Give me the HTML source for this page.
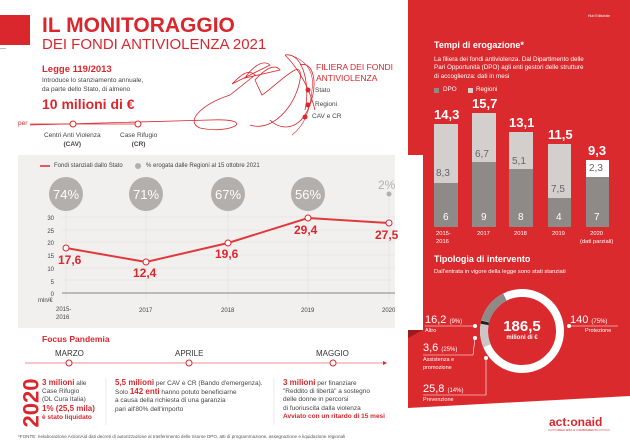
<!DOCTYPE html>
<html><head><meta charset="utf-8"><style>
*{margin:0;padding:0;box-sizing:border-box}
body{width:630px;height:446px;overflow:hidden;background:#fff;font-family:"Liberation Sans",sans-serif;position:relative}
.a{position:absolute;white-space:nowrap}
.r{color:#d9272d}
.t{font-size:6.5px;color:#444;line-height:8.5px}
.w{color:#fff}
</style></head><body>
<!-- right red panel -->
<svg class="a" style="left:0;top:0" width="630" height="446">
<polygon points="408,0 630,0 630,396 408,408" fill="#da2a2d"/>
<polygon points="408,155 423,155 423,330 408,330" fill="#fff"/>
<polygon points="408,330 423,330 408,338" fill="#9c1b1e"/>
<rect x="0" y="15" width="30" height="30" fill="#d9272d"/>
<rect x="0" y="48" width="6" height="1" fill="#bbb"/>
<rect x="18" y="155" width="377" height="173" fill="#f2f0ef"/>
<!-- hand sketch -->
<g fill="none" stroke="#d9272d" stroke-width="0.8">
<path d="M30,125 L210,120 C260,118 230,135 200,128 C185,122 200,105 230,95 L255,75 C248,68 240,76 232,84 L270,65 C262,58 250,70 245,78 L280,70 C274,62 262,72 255,80 L262,95 C270,90 285,75 295,70 C305,65 300,90 290,105 C280,120 265,130 250,125"/>
<path d="M285,55 C300,70 310,90 315,110 M300,65 C315,60 320,90 305,115 C295,130 280,130 270,120"/>
<path d="M285,55 C305,52 310,90 305,110"/>
</g>
<path d="M290,55 C305,60 315,70 312,90 C310,110 305,125 292,135" fill="none" stroke="#d9272d" stroke-width="0.6"/>
<!-- per timeline -->
<line x1="30" y1="124" x2="140" y2="124" stroke="#d9272d" stroke-width="0.8"/>
<circle cx="73" cy="124" r="3" fill="#fff" stroke="#d9272d"/>
<circle cx="138" cy="124" r="3" fill="#fff" stroke="#d9272d"/>
<circle cx="308" cy="90" r="2.5" fill="#d9272d"/><circle cx="308" cy="105" r="2.5" fill="#d9272d"/><circle cx="305" cy="117" r="2.5" fill="#d9272d"/>
<!-- line chart grid -->
<g stroke="#ddd" stroke-width="0.6">
<line x1="62" y1="217" x2="395" y2="217"/><line x1="62" y1="230" x2="395" y2="230"/><line x1="62" y1="242" x2="395" y2="242"/><line x1="62" y1="255" x2="395" y2="255"/><line x1="62" y1="268" x2="395" y2="268"/><line x1="62" y1="280" x2="395" y2="280"/>
<line x1="66" y1="200" x2="66" y2="300"/><line x1="146" y1="200" x2="146" y2="300"/><line x1="228" y1="200" x2="228" y2="300"/><line x1="308" y1="200" x2="308" y2="300"/><line x1="389" y1="195" x2="389" y2="300"/>
</g>
<line x1="62" y1="293" x2="395" y2="293" stroke="#999" stroke-width="1.2"/>
<g fill="#b3afac"><circle cx="66" cy="194" r="17"/><circle cx="146" cy="194" r="17"/><circle cx="228" cy="194" r="17"/><circle cx="308" cy="194" r="17"/><circle cx="389" cy="194" r="2.5"/><circle cx="138" cy="166" r="3"/></g>
<line x1="40" y1="166" x2="50" y2="166" stroke="#d9272d" stroke-width="1.5"/>
<polyline points="66,248 146,262 228,243 308,218 389,223" fill="none" stroke="#e0393c" stroke-width="2"/>
<g fill="#fff" stroke="#d9272d"><circle cx="66" cy="248" r="3"/><circle cx="146" cy="262" r="3"/><circle cx="228" cy="243" r="3"/><circle cx="308" cy="218" r="3"/><circle cx="389" cy="223" r="3"/></g>
<!-- focus timeline -->
<line x1="25" y1="363" x2="383" y2="363" stroke="#d9272d" stroke-width="0.6"/>
<polygon points="383,361 387,363 383,365" fill="#d9272d"/>
<g fill="#fff" stroke="#d9272d"><circle cx="69" cy="363" r="3"/><circle cx="189" cy="363" r="3"/><circle cx="333" cy="363" r="3"/></g>
<line x1="106" y1="378" x2="106" y2="425" stroke="#ddd" stroke-width="0.6"/>
<line x1="274" y1="378" x2="274" y2="425" stroke="#ddd" stroke-width="0.6"/>
<!-- bars -->
<g fill="#8e8a87"><rect x="434" y="183" width="24" height="44"/><rect x="472" y="162" width="24" height="65"/><rect x="509" y="169" width="24" height="58"/><rect x="548" y="198" width="23" height="29"/><rect x="586" y="177" width="23" height="50"/></g>
<g fill="#d2cfcd"><rect x="434" y="124" width="24" height="59"/><rect x="472" y="113" width="24" height="49"/><rect x="509" y="132" width="24" height="37"/><rect x="548" y="144" width="23" height="54"/></g>
<rect x="586" y="160" width="23" height="17" fill="#fff"/>
<rect x="434" y="88" width="5" height="5" fill="#8e8a87"/><rect x="468" y="88" width="5" height="5" fill="#d2cfcd"/>
<!-- donut -->
<circle cx="522" cy="331" r="38" fill="none" stroke="#fff" stroke-width="8"/>
<circle cx="522" cy="331" r="38" fill="none" stroke="#c9c6c4" stroke-width="8" stroke-dasharray="22 217" transform="rotate(157 522 331)"/>
<circle cx="522" cy="331" r="38" fill="none" stroke="#222" stroke-width="8" stroke-dasharray="3 236" transform="rotate(190 522 331)"/>
<circle cx="522" cy="331" r="38" fill="none" stroke="#8e8a87" stroke-width="8" stroke-dasharray="32 207" transform="rotate(195 522 331)"/>
<g stroke="#fff" stroke-width="0.6" fill="none"><line x1="425" y1="326" x2="475" y2="326"/><line x1="570" y1="326" x2="618" y2="326"/><polyline points="475,338 473,355 423,355"/><polyline points="486,358 486,395 423,395"/></g>
<g fill="#fff"><circle cx="475" cy="326" r="2"/><circle cx="569" cy="326" r="2"/><circle cx="475" cy="338" r="2"/><circle cx="486" cy="358" r="2"/></g>
<line x1="548" y1="430" x2="610" y2="430" stroke="#d9272d" stroke-width="0.5"/>
</svg>
<div class="a r" style="left:42px;top:14px;font-size:21px;font-weight:bold">IL MONITORAGGIO</div>
<div class="a r" style="left:42px;top:36px;font-size:15px">DEI FONDI ANTIVIOLENZA 2021</div>
<div class="a r" style="left:42px;top:64px;font-size:9.5px;font-weight:bold">Legge 119/2013</div>
<div class="a t" style="left:42px;top:77px">Introduce lo stanziamento annuale,<br>da parte dello Stato, di almeno</div>
<div class="a r" style="left:42px;top:96px;font-size:14px;font-weight:bold">10 milioni di €</div>
<div class="a r" style="left:18px;top:120px;font-size:6.5px">per</div>
<div class="a t" style="left:44px;top:132px;text-align:center">Centri Anti Violenza<br><b>(CAV)</b></div>
<div class="a t" style="left:120px;top:132px;text-align:center">Case Rifugio<br><b>(CR)</b></div>
<div class="a r" style="left:316px;top:62px;font-size:8.5px;line-height:11px">FILIERA DEI FONDI<br>ANTIVIOLENZA</div>
<div class="a t" style="left:315px;top:87px">Stato</div>
<div class="a t" style="left:315px;top:101px">Regioni</div>
<div class="a t" style="left:312px;top:113px">CAV e CR</div>
<div class="a t" style="left:54px;top:162px;font-size:6px">Fondi stanziati dallo Stato</div>
<div class="a t" style="left:146px;top:162px;font-size:6px">% erogata dalle Regioni al 15 ottobre 2021</div>
<div class="a w" style="left:49px;top:187px;font-size:13px;width:34px;text-align:center">74%</div>
<div class="a w" style="left:129px;top:187px;font-size:13px;width:34px;text-align:center">71%</div>
<div class="a w" style="left:211px;top:187px;font-size:13px;width:34px;text-align:center">67%</div>
<div class="a w" style="left:291px;top:187px;font-size:13px;width:34px;text-align:center">56%</div>
<div class="a" style="left:378px;top:178px;font-size:12px;color:#b3afac">2%</div>
<div class="a t" style="left:38px;top:213px;font-size:6px;text-align:right;width:16px;line-height:12.7px">30<br>25<br>20<br>15<br>10<br>5<br>0</div>
<div class="a t" style="left:38px;top:297px;font-size:6px">mln/€</div>
<div class="a t" style="left:56px;top:307px;font-size:6px;line-height:7.5px">2015-<br>2016</div>
<div class="a t" style="left:139px;top:307px;font-size:6px">2017</div>
<div class="a t" style="left:221px;top:307px;font-size:6px">2018</div>
<div class="a t" style="left:301px;top:307px;font-size:6px">2019</div>
<div class="a t" style="left:382px;top:307px;font-size:6px">2020</div>
<div class="a r" style="left:58px;top:253px;font-size:12px;font-weight:bold">17,6</div>
<div class="a r" style="left:133px;top:266px;font-size:12px;font-weight:bold">12,4</div>
<div class="a r" style="left:215px;top:247px;font-size:12px;font-weight:bold">19,6</div>
<div class="a r" style="left:294px;top:223px;font-size:12px;font-weight:bold">29,4</div>
<div class="a r" style="left:375px;top:228px;font-size:12px;font-weight:bold">27,5</div>
<div class="a r" style="left:42px;top:334px;font-size:8.5px;font-weight:bold">Focus Pandemia</div>
<div class="a" style="left:55px;top:349px;font-size:8px;color:#333">MARZO</div>
<div class="a" style="left:175px;top:349px;font-size:8px;color:#333">APRILE</div>
<div class="a" style="left:316px;top:349px;font-size:8px;color:#333">MAGGIO</div>
<div class="a r" style="left:7px;top:390px;font-size:22px;font-weight:bold;transform:rotate(-90deg);transform-origin:center">2020</div>
<div class="a t" style="left:42px;top:379px;line-height:8.2px"><b class="r" style="font-size:8px">3 milioni</b> alle<br>Case Rifugio<br>(DL Cura Italia)<br><b class="r" style="font-size:8px">1% (25,5 mila)</b><br><b class="r">è stato liquidato</b></div>
<div class="a t" style="left:115px;top:379px;line-height:8.2px"><b class="r" style="font-size:8px">5,5 milioni</b> per CAV e CR (Bando d'emergenza).<br>Solo <b class="r" style="font-size:8px">142 enti</b> hanno potuto beneficiarne<br>a causa della richiesta di una garanzia<br>pari all'80% dell'importo</div>
<div class="a t" style="left:283px;top:379px;line-height:8.2px"><b class="r" style="font-size:8px">3 milioni</b> per finanziare<br>"Reddito di libertà" a sostegno<br>delle donne in percorsi<br>di fuoriuscita dalla violenza<br><b class="r">Avviato con un ritardo di 15 mesi</b></div>
<div class="a" style="left:18px;top:434px;font-size:4.6px;color:#555">*FONTE: rielaborazione ActionAid dati decreti di autorizzazione al trasferimento delle risorse DPO, atti di programmazione, assegnazione e liquidazione regionali</div>
<div class="a w" style="left:588px;top:14px;font-size:3.5px">Hub Editoriale</div>
<div class="a w" style="left:434px;top:40px;font-size:9px;font-weight:bold">Tempi di erogazione*</div>
<div class="a w" style="left:434px;top:56px;font-size:6.3px;line-height:8.3px">La filiera dei fondi antiviolenza. Dal Dipartimento delle<br>Pari Opportunità (DPO) agli enti gestori delle strutture<br>di accoglienza: dati in mesi</div>
<div class="a w" style="left:443px;top:86px;font-size:6.3px">DPO</div>
<div class="a w" style="left:476px;top:86px;font-size:6.3px">Regioni</div>
<div class="a w" style="left:434px;top:107px;font-size:13px;font-weight:bold">14,3</div>
<div class="a w" style="left:472px;top:96px;font-size:13px;font-weight:bold">15,7</div>
<div class="a w" style="left:509px;top:115px;font-size:13px;font-weight:bold">13,1</div>
<div class="a w" style="left:548px;top:127px;font-size:13px;font-weight:bold">11,5</div>
<div class="a w" style="left:588px;top:143px;font-size:13px;font-weight:bold">9,3</div>
<g></g>
<div class="a" style="left:436px;top:168px;font-size:10px;color:#666">8,3</div>
<div class="a" style="left:475px;top:149px;font-size:10px;color:#666">6,7</div>
<div class="a" style="left:512px;top:156px;font-size:10px;color:#666">5,1</div>
<div class="a" style="left:551px;top:184px;font-size:10px;color:#666">7,5</div>
<div class="a" style="left:589px;top:163px;font-size:10px;color:#666">2,3</div>
<div class="a w" style="left:443px;top:212px;font-size:10px">6</div>
<div class="a w" style="left:481px;top:212px;font-size:10px">9</div>
<div class="a w" style="left:518px;top:212px;font-size:10px">8</div>
<div class="a w" style="left:556px;top:212px;font-size:10px">4</div>
<div class="a w" style="left:594px;top:212px;font-size:10px">7</div>
<div class="a w" style="left:436px;top:231px;font-size:5.8px;line-height:7.5px">2015-<br>2016</div>
<div class="a w" style="left:477px;top:231px;font-size:5.8px">2017</div>
<div class="a w" style="left:514px;top:231px;font-size:5.8px">2018</div>
<div class="a w" style="left:552px;top:231px;font-size:5.8px">2019</div>
<div class="a w" style="left:580px;top:231px;font-size:5.8px;line-height:7.5px;text-align:center">2020<br>(dati parziali)</div>
<div class="a w" style="left:434px;top:254px;font-size:9px;font-weight:bold">Tipologia di intervento</div>
<div class="a w" style="left:434px;top:269px;font-size:5.8px">Dall'entrata in vigore della legge sono stati stanziati</div>
<div class="a w" style="left:490px;top:318px;font-size:15px;font-weight:bold;width:64px;text-align:center">186,5</div>
<div class="a w" style="left:490px;top:335px;font-size:6px;font-weight:bold;width:64px;text-align:center">milioni di €</div>
<div class="a w" style="left:425px;top:314px;font-size:11px">16,2 <span style="font-size:6px">(9%)</span></div>
<div class="a w" style="left:425px;top:328px;font-size:5.5px">Altro</div>
<div class="a w" style="left:570px;top:314px;font-size:11px">140 <span style="font-size:6px">(75%)</span></div>
<div class="a w" style="left:585px;top:328px;font-size:5.5px">Protezione</div>
<div class="a w" style="left:423px;top:342px;font-size:11px">3,6 <span style="font-size:6px">(25%)</span></div>
<div class="a w" style="left:423px;top:357px;font-size:5.5px;line-height:7.5px">Assistenza e<br>promozione</div>
<div class="a w" style="left:423px;top:383px;font-size:11px">25,8 <span style="font-size:6px">(14%)</span></div>
<div class="a w" style="left:423px;top:397px;font-size:5.5px">Prevenzione</div>
<div class="a r" style="left:549px;top:415px;font-size:12px;font-weight:bold">act:onaid</div>
<div class="a r" style="left:558px;top:428px;font-size:3px;background:#fff">REALIZZA IL CAMBIAMENTO</div>
</body></html>
